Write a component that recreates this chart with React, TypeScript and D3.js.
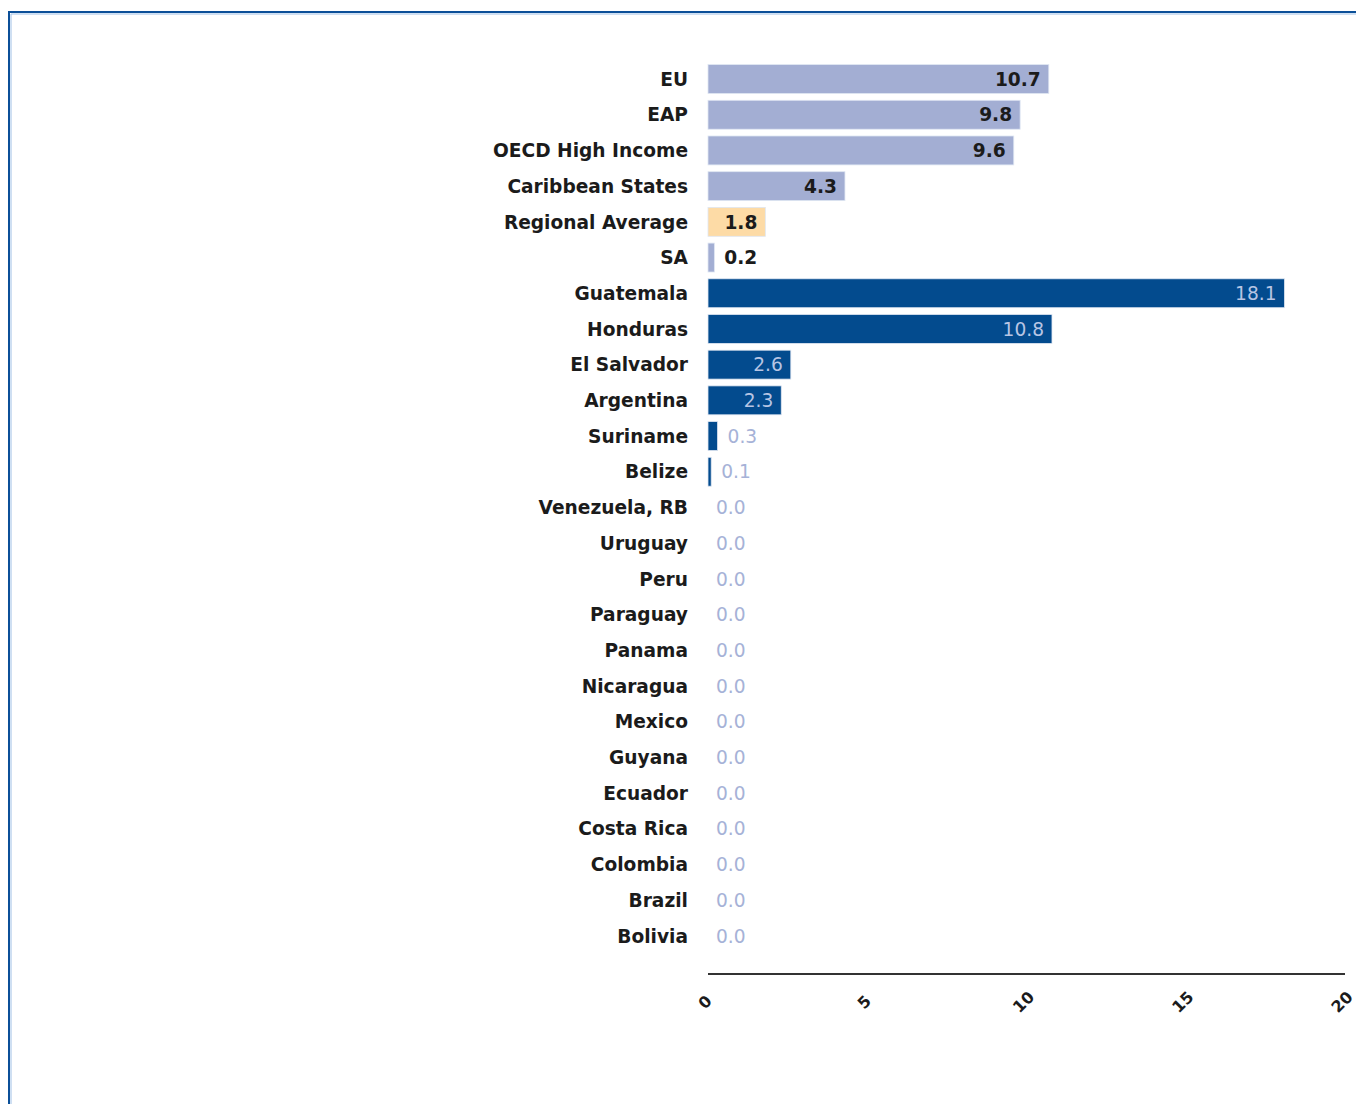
import React, { useRef, useEffect } from "react";
import * as d3 from "d3";

const categories = [
  "EU", "EAP", "OECD High Income", "Caribbean States", "Regional Average", "SA",
  "Guatemala", "Honduras", "El Salvador", "Argentina", "Suriname", "Belize",
  "Venezuela, RB", "Uruguay", "Peru", "Paraguay", "Panama", "Nicaragua",
  "Mexico", "Guyana", "Ecuador", "Costa Rica", "Colombia", "Brazil", "Bolivia",
];
const values = [
  10.7, 9.8, 9.6, 4.3, 1.8, 0.2,
  18.1, 10.8, 2.6, 2.3, 0.3, 0.1,
  0, 0, 0, 0, 0, 0, 0, 0, 0, 0, 0, 0, 0,
];
// group: "ref" = comparator regions, "avg" = regional average, "lac" = countries
const groups = [
  "ref", "ref", "ref", "ref", "avg", "ref",
  "lac", "lac", "lac", "lac", "lac", "lac",
  "lac", "lac", "lac", "lac", "lac", "lac", "lac", "lac", "lac", "lac", "lac", "lac", "lac",
];
const xTicks = [0, 5, 10, 15, 20];

const fill: Record<string, string> = { ref: "#a3aed3", avg: "#fddba6", lac: "#034b8e" };
const font = "'DejaVu Sans', Verdana, sans-serif";

export default function App() {
  const ref = useRef<SVGSVGElement | null>(null);

  useEffect(() => {
    const svg = d3.select(ref.current);
    svg.selectAll("*").remove();

    // frame
    svg.append("path")
      .attr("d", "M9,1104 V12 H1356")
      .attr("fill", "none")
      .attr("stroke", "#0b4f98")
      .attr("stroke-width", 2);
    svg.append("path")
      .attr("d", "M11,1104 V14 H1356")
      .attr("fill", "none")
      .attr("stroke", "#9fc0e6")
      .attr("stroke-width", 1);

    const x = d3.scaleLinear().domain([0, 20]).range([708, 1345]);
    const y = d3.scaleBand<string>()
      .domain(categories)
      .range([61.2, 953.7])
      .paddingInner(0.19)
      .paddingOuter(0.095);

    const data = categories.map((c, i) => ({ c, v: values[i], g: groups[i] }));

    const g = svg.append("g");
    g.selectAll("rect")
      .data(data.filter((d) => d.v > 0))
      .enter()
      .append("rect")
      .attr("x", x(0))
      .attr("y", (d) => y(d.c)!)
      .attr("width", (d) => Math.max(x(d.v) - x(0), 2))
      .attr("height", y.bandwidth())
      .attr("fill", (d) => fill[d.g])
      .attr("stroke", "#dfe6f2")
      .attr("stroke-width", 0.8);

    // category labels
    g.selectAll(".cat")
      .data(data)
      .enter()
      .append("text")
      .attr("x", 688)
      .attr("y", (d) => y(d.c)! + y.bandwidth() / 2)
      .attr("dy", "0.36em")
      .attr("text-anchor", "end")
      .attr("font-family", font)
      .attr("font-weight", "bold")
      .attr("font-size", 18.6)
      .attr("fill", "#1b1b1b")
      .text((d) => d.c);

    // value labels
    g.selectAll(".val")
      .data(data)
      .enter()
      .append("text")
      .each(function (d) {
        const inside = d.v >= 1;
        const t = d3.select(this);
        const cy = y(d.c)! + y.bandwidth() / 2;
        t.attr("y", cy).attr("dy", "0.36em").attr("font-family", font).attr("font-size", 18.6);
        if (inside) {
          t.attr("x", x(d.v) - 8).attr("text-anchor", "end");
        } else {
          t.attr("x", x(d.v) + (d.v > 0 ? 10 : 8)).attr("text-anchor", "start");
        }
        if (d.g === "lac") {
          t.attr("fill", inside ? "#b7c5e4" : "#a6b2d7").attr("font-weight", "normal");
        } else {
          t.attr("fill", "#1b1b1b").attr("font-weight", "bold");
        }
        t.text(d.v.toFixed(1));
      });

    // axis
    const ax = svg.append("g").attr("transform", "translate(0,974)");
    ax.append("line")
      .attr("x1", x(0))
      .attr("x2", x(20))
      .attr("stroke", "#333")
      .attr("stroke-width", 2);
    ax.selectAll("text")
      .data(xTicks)
      .enter()
      .append("text")
      .attr("transform", (d) => `translate(${x(d) - 3},${28}) rotate(-45)`)
      .attr("dy", "0.35em")
      .attr("text-anchor", "middle")
      .attr("font-family", font)
      .attr("font-weight", "bold")
      .attr("font-size", 16)
      .attr("fill", "#1b1b1b")
      .text((d) => d);
  }, []);

  return (
    <svg
      ref={ref}
      width={1356}
      height={1104}
      style={{ position: "absolute", left: 0, top: 0, background: "#fff" }}
    />
  );
}
